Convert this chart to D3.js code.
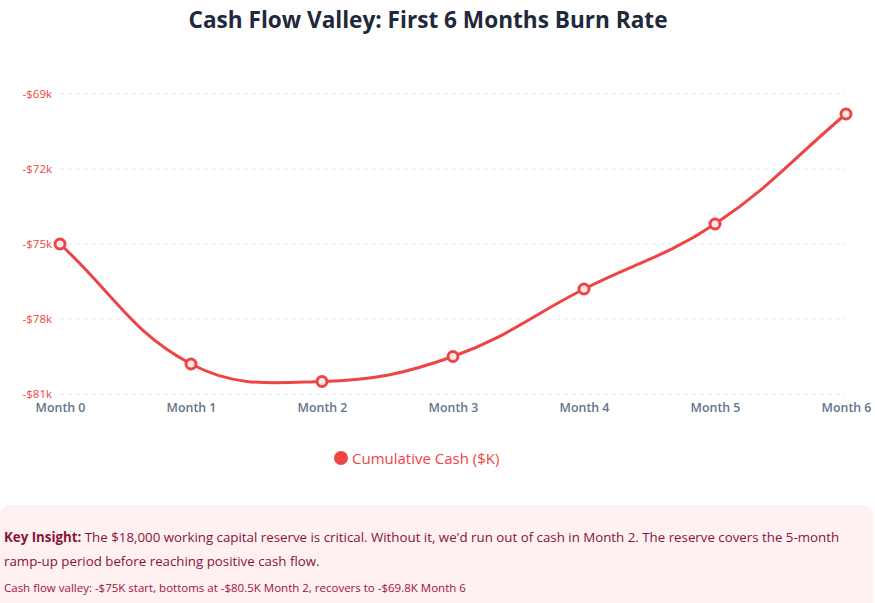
<!DOCTYPE html>
<html>
<head>
<meta charset="utf-8">
<script src="https://cdn.jsdelivr.net/npm/d3@7"></script>
<style>
  html, body { margin: 0; padding: 0; background: #fff; }
  body { width: 875px; height: 603px; overflow: hidden; position: relative; font-family: "Open Sans", "Noto Sans", sans-serif; }
  .insight { position: absolute; left: 0; top: 505px; width: 873px; height: 110px; background: #fff0f2; border-radius: 10px; box-sizing: border-box; padding: 20px 4px; color: #881337; }
  .insight p { margin: 0; font-size: 13.3px; line-height: 24px; }
  .insight .small { font-size: 11.5px; margin-top: 6px; line-height: 18px; color: #9f1239; }
</style>
</head>
<body>
<svg id="chart" width="875" height="505"></svg>
<div class="insight">
  <p><b>Key Insight:</b> The $18,000 working capital reserve is critical. Without it, we'd run out of cash in Month 2. The reserve covers the 5-month ramp-up period before reaching positive cash flow.</p>
  <p class="small">Cash flow valley: -$75K start, bottoms at -$80.5K Month 2, recovers to -$69.8K Month 6</p>
</div>
<script>
const months = ["Month 0", "Month 1", "Month 2", "Month 3", "Month 4", "Month 5", "Month 6"];
const cumulativeCash = [-75.0, -79.8, -80.5, -79.5, -76.8, -74.2, -69.8];
const yTicks = [-81, -78, -75, -72, -69];
const seriesName = "Cumulative Cash ($K)";
const title = "Cash Flow Valley: First 6 Months Burn Rate";

const red = "#ef4444";
const svg = d3.select("#chart");

const x = d3.scalePoint().domain(months).range([60, 846]);
const y = d3.scaleLinear().domain([-81, -69]).range([394, 94]);

// title
svg.append("text")
  .attr("x", 428).attr("y", 28)
  .attr("text-anchor", "middle")
  .attr("font-size", 22.6).attr("font-weight", 700)
  .attr("fill", "#1e293b")
  .text(title);

// grid
svg.append("g").selectAll("line").data(yTicks).join("line")
  .attr("x1", 60).attr("x2", 846)
  .attr("y1", d => y(d)).attr("y2", d => y(d))
  .attr("stroke", "#e5e7eb").attr("stroke-width", 1)
  .attr("stroke-dasharray", "4,4");

// y axis
const yAxis = d3.axisLeft(y).tickValues(yTicks).tickSize(0).tickPadding(8)
  .tickFormat(d => "-$" + Math.abs(d) + "k");
const gy = svg.append("g").attr("transform", "translate(60,0)").call(yAxis);
gy.select(".domain").remove();
gy.selectAll("text").attr("fill", red).attr("font-size", 11.5)
  .attr("font-family", "'Open Sans', sans-serif").attr("text-anchor", "end");

// x axis
const xAxis = d3.axisBottom(x).tickSize(0).tickPadding(0);
const gx = svg.append("g").attr("transform", "translate(0,394)").call(xAxis);
gx.select(".domain").remove();
gx.selectAll("text").attr("fill", "#64748b").attr("font-size", 12.4)
  .attr("font-weight", 600).attr("font-family", "'Open Sans', sans-serif")
  .attr("dy", "1.45em");

// Chart.js-like spline curve (tension 0.4)
function ChartJsCurve(context) { this._context = context; }
ChartJsCurve.prototype = {
  areaStart() {}, areaEnd() {},
  lineStart() { this._pts = []; },
  lineEnd() {
    const p = this._pts, t = 0.4, c = this._context;
    const n = p.length;
    const cps = p.map((cur, i) => {
      const prev = p[Math.max(0, i - 1)], next = p[Math.min(n - 1, i + 1)];
      const d01 = Math.hypot(cur[0] - prev[0], cur[1] - prev[1]);
      const d12 = Math.hypot(next[0] - cur[0], next[1] - cur[1]);
      let s01 = d01 / (d01 + d12), s12 = d12 / (d01 + d12);
      s01 = isNaN(s01) ? 0 : s01; s12 = isNaN(s12) ? 0 : s12;
      const fa = t * s01, fb = t * s12;
      return {
        prev: [cur[0] - fa * (next[0] - prev[0]), cur[1] - fa * (next[1] - prev[1])],
        next: [cur[0] + fb * (next[0] - prev[0]), cur[1] + fb * (next[1] - prev[1])]
      };
    });
    c.moveTo(p[0][0], p[0][1]);
    for (let i = 1; i < n; i++) {
      c.bezierCurveTo(cps[i - 1].next[0], cps[i - 1].next[1], cps[i].prev[0], cps[i].prev[1], p[i][0], p[i][1]);
    }
  },
  point(px, py) { this._pts.push([+px, +py]); }
};
const chartJsCurve = ctx => new ChartJsCurve(ctx);

const line = d3.line()
  .x((d, i) => x(months[i]))
  .y(d => y(d))
  .curve(chartJsCurve);

svg.append("path").datum(cumulativeCash)
  .attr("d", line)
  .attr("fill", "none").attr("stroke", red).attr("stroke-width", 3);

svg.append("g").selectAll("circle").data(cumulativeCash).join("circle")
  .attr("cx", (d, i) => x(months[i])).attr("cy", d => y(d))
  .attr("r", 5)
  .attr("fill", "#fde8e8").attr("stroke", red).attr("stroke-width", 3);

// legend
const lg = svg.append("g");
lg.append("circle").attr("cx", 341).attr("cy", 458).attr("r", 7).attr("fill", red);
lg.append("text").attr("x", 352).attr("y", 463.5)
  .attr("font-size", 15).attr("fill", red)
  .text(seriesName);
</script>
</body>
</html>
